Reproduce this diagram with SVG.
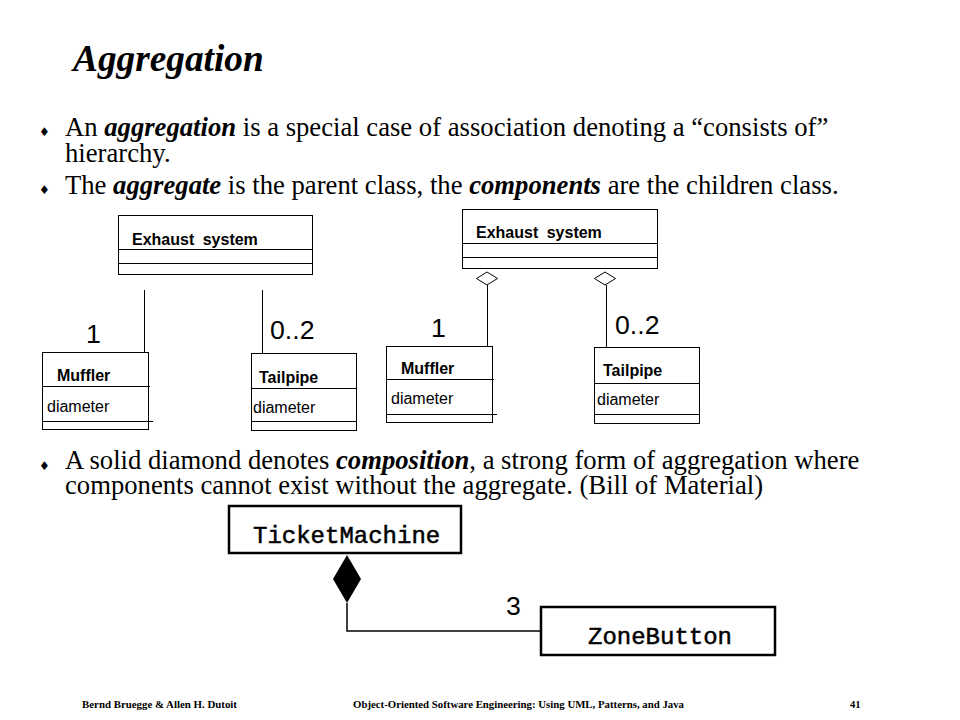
<svg xmlns="http://www.w3.org/2000/svg" width="960" height="720" viewBox="0 0 960 720">
<style>
.body{font-family:"Liberation Serif","Times New Roman",serif;font-size:26.67px;fill:#000}
.bi{font-weight:bold;font-style:italic}
.bul{font-family:"DejaVu Sans",sans-serif;font-size:12px;fill:#000}
.box{fill:#fff;stroke:#000;stroke-width:1}
.ln{stroke:#000;stroke-width:1;fill:none}
.cn{font-family:"Liberation Sans",Arial,sans-serif;font-size:16px;font-weight:bold;fill:#000}
.at{font-family:"Liberation Sans",Arial,sans-serif;font-size:16px;fill:#000}
.mul{font-family:"Liberation Sans",Arial,sans-serif;font-size:26.67px;fill:#000}
.mono{font-family:"Liberation Mono","Courier New",monospace;font-size:24px;fill:#000;stroke:#000;stroke-width:0.5}
.thick{fill:#fff;stroke:#000;stroke-width:2.5}
.foot{font-family:"Liberation Serif","Times New Roman",serif;font-size:10.67px;font-weight:bold;fill:#000}
</style>
<rect x="0" y="0" width="960" height="720" fill="#fff"/>

<g id="title">
<text x="73" y="71" font-family="Liberation Serif,'Times New Roman',serif" font-size="37.3" font-weight="bold" font-style="italic">Aggregation</text>
</g>

<g id="bullets">
<text class="bul" x="39" y="136">♦</text>
<text class="body" x="65" y="136">An <tspan class="bi">aggregation</tspan> is a special case of association denoting a “consists of”</text>
<text class="body" x="65" y="162">hierarchy.</text>
<text class="bul" x="39" y="194">♦</text>
<text class="body" x="65" y="194">The <tspan class="bi">aggregate</tspan> is the parent class, the <tspan class="bi">components</tspan> are the children class.</text>
<text class="bul" x="39" y="470">♦</text>
<text class="body" x="65" y="469">A solid diamond denotes <tspan class="bi">composition</tspan>, a strong form of aggregation where</text>
<text class="body" x="65" y="494">components cannot exist without the aggregate. (Bill of Material)</text>
</g>

<g id="exhaust1">
<rect class="box" x="118.5" y="215.5" width="194" height="59"/>
<line class="ln" x1="118.5" y1="249.5" x2="312.5" y2="249.5"/>
<line class="ln" x1="118.5" y1="263.5" x2="312.5" y2="263.5"/>
<text class="cn" x="132" y="245" word-spacing="4">Exhaust system</text>
</g>
<g id="muffler1">
<rect class="box" x="42.5" y="352.5" width="106" height="77"/>
<line class="ln" x1="42.5" y1="386.5" x2="150" y2="386.5"/>
<line class="ln" x1="42.5" y1="421.5" x2="153" y2="421.5"/>
<text class="cn" x="57" y="381">Muffler</text>
<text class="at" x="47" y="412">diameter</text>
</g>
<g id="tailpipe1">
<rect class="box" x="251.5" y="353.5" width="105" height="77"/>
<line class="ln" x1="251.5" y1="388.5" x2="356.5" y2="388.5"/>
<line class="ln" x1="251.5" y1="421.5" x2="356.5" y2="421.5"/>
<text class="cn" x="259" y="383">Tailpipe</text>
<text class="at" x="253" y="413">diameter</text>
</g>

<g id="exhaust2">
<rect class="box" x="462.5" y="209.5" width="195" height="59"/>
<line class="ln" x1="462.5" y1="243.5" x2="657.5" y2="243.5"/>
<line class="ln" x1="462.5" y1="257.5" x2="657.5" y2="257.5"/>
<text class="cn" x="476" y="238" word-spacing="4">Exhaust system</text>
</g>
<g id="muffler2">
<rect class="box" x="386.5" y="346.5" width="106" height="76"/>
<line class="ln" x1="386.5" y1="379.5" x2="494" y2="379.5"/>
<line class="ln" x1="386.5" y1="414.5" x2="497" y2="414.5"/>
<text class="cn" x="401" y="374">Muffler</text>
<text class="at" x="391" y="404">diameter</text>
</g>
<g id="tailpipe2">
<rect class="box" x="594.5" y="347.5" width="105" height="76"/>
<line class="ln" x1="594.5" y1="383.5" x2="699.5" y2="383.5"/>
<line class="ln" x1="594.5" y1="414.5" x2="699.5" y2="414.5"/>
<text class="cn" x="603" y="376">Tailpipe</text>
<text class="at" x="597" y="405">diameter</text>
</g>

<g id="ticketmachine">
<rect class="thick" x="229" y="506" width="232" height="47"/>
<text class="mono" x="253" y="543">TicketMachine</text>
</g>
<g id="zonebutton">
<rect class="thick" x="541" y="607" width="234" height="48"/>
<text class="mono" x="588" y="644">ZoneButton</text>
</g>

<g id="connectors">
<line class="ln" x1="144.5" y1="290" x2="144.5" y2="352"/>
<line class="ln" x1="262.5" y1="290" x2="262.5" y2="353"/>
<text class="mul" x="86" y="343">1</text>
<text class="mul" x="270" y="339">0..2</text>

<polygon class="box" points="487,272 497.5,278.5 487,285 476.5,278.5"/>
<line class="ln" x1="487.5" y1="285" x2="487.5" y2="346"/>
<polygon class="box" points="605,272 615.5,278.5 605,285 594.5,278.5"/>
<line class="ln" x1="606.5" y1="285" x2="606.5" y2="347"/>
<text class="mul" x="431" y="337">1</text>
<text class="mul" x="615" y="334">0..2</text>

<polygon points="347,555 361,579 347,603 333,579" fill="#000"/>
<polyline points="347,603 347,631 541,631" fill="none" stroke="#000" stroke-width="1.5"/>
<text class="mul" x="506" y="615">3</text>
</g>

<g id="footer">
<text class="foot" x="82" y="708" textLength="155" lengthAdjust="spacingAndGlyphs">Bernd Bruegge &amp; Allen H. Dutoit</text>
<text class="foot" x="353" y="708" textLength="331" lengthAdjust="spacingAndGlyphs">Object-Oriented Software Engineering: Using UML, Patterns, and Java</text>
<text class="foot" x="850" y="708">41</text>
</g>
</svg>
